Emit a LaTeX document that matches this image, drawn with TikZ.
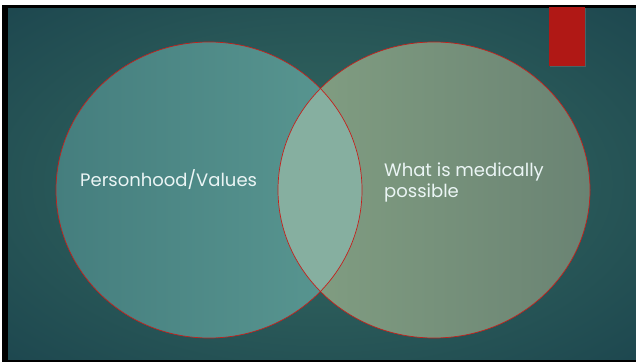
\documentclass[tikz,border=0pt]{standalone}
\usepackage{fontspec}
\setmainfont{Poppins}
\usetikzlibrary{shadows}
\definecolor{bgdark}{HTML}{133847}
\definecolor{bgmid}{HTML}{2D5E5B}
\definecolor{leftA}{HTML}{457E7E}
\definecolor{leftB}{HTML}{5A9892}
\definecolor{rightA}{HTML}{83A083}
\definecolor{rightB}{HTML}{6A8373}
\definecolor{overlapfill}{HTML}{86AFA0}
\definecolor{ringred}{HTML}{C4201C}
\definecolor{tabred}{HTML}{B01815}
\pgfdeclareradialshading{slideglow}{\pgfpoint{0bp}{0bp}}{%
  color(0bp)=(bgmid); color(14bp)=(bgmid); color(34bp)=(bgdark!55!bgmid); color(48bp)=(bgdark); color(50bp)=(bgdark)}
\tikzset{
  ring/.style={draw=ringred, line width=0.7pt},
  label/.style={text=white!92!teal, font=\fontsize{18}{21}\selectfont, align=left, inner sep=0pt},
}
\begin{document}
\begin{tikzpicture}[x=1pt,y=-1pt]
\useasboundingbox (0,0) rectangle (636,363);
% page margin and frame
\fill[white] (0,0) rectangle (636,363);
\fill[black] (2,5) rectangle (636,362);
% slide background
\fill[bgdark] (8,9) rectangle (636,359);
\shade[shading=slideglow] (8,9) rectangle (636,359);
% left and right sets
\shade[left color=leftA, right color=leftB] (209,190) ellipse [x radius=153, y radius=148];
\shade[left color=rightA, right color=rightB] (434,190) ellipse [x radius=156, y radius=148];
\begin{scope}
  \clip (209,190) ellipse [x radius=153, y radius=148];
  \fill[overlapfill] (434,190) ellipse [x radius=156, y radius=148];
\end{scope}
\draw[ring] (209,190) ellipse [x radius=153, y radius=148];
\draw[ring] (434,190) ellipse [x radius=156, y radius=148];
% corner tab
\fill[tabred, drop shadow={opacity=0.4, shadow xshift=1pt, shadow yshift=-1pt}] (549,7) rectangle (585,66);
% set labels
\node[label, anchor=base west] (pv) at (80,187) {Personhood/Values};
\node[label, anchor=base west] (mp) at (384,198) {What is medically\\possible};
\end{tikzpicture}
\end{document}
